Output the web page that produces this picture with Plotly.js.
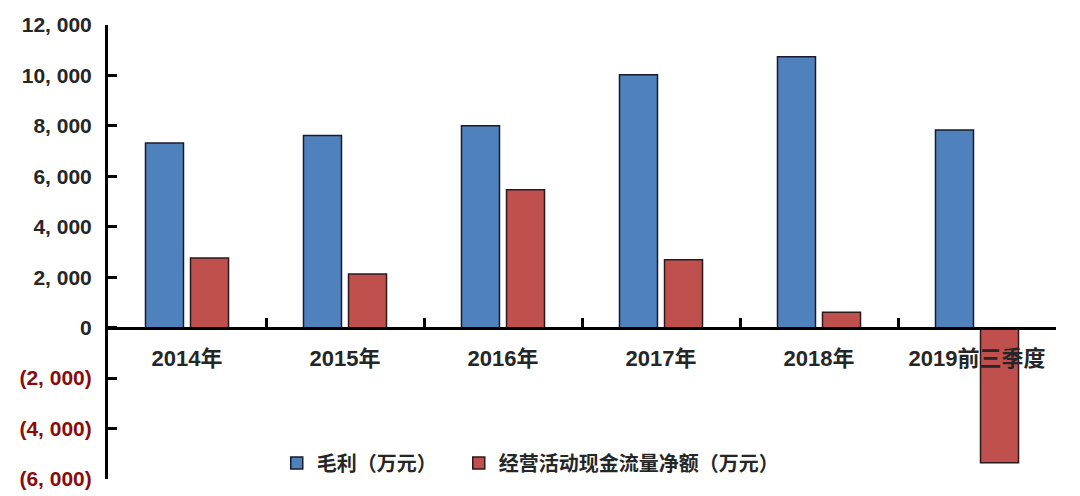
<!DOCTYPE html>
<html><head><meta charset="utf-8">
<script src="https://cdn.plot.ly/plotly-3.0.1.min.js"></script>
<style>html,body{margin:0;padding:0;background:#fff}#chart{width:1080px;height:496px}</style>
</head><body><div id="chart"></div>
<script>
const categories = ['2014年','2015年','2016年','2017年','2018年','2019前三季度'];
const grossProfit = [7320, 7620, 8010, 10030, 10740, 7840];
const operatingCashFlow = [2760, 2130, 5470, 2690, 610, -5360];
const seriesNames = ['毛利（万元）','经营活动现金流量净额（万元）'];
const yTickVals = [-6000,-4000,-2000,0,2000,4000,6000,8000,10000,12000];
const yTickLabels = ['(6, 000)','(4, 000)','(2, 000)','0','2, 000','4, 000','6, 000','8, 000','10, 000','12, 000'];

const FONT = 'Liberation Sans, Noto Sans CJK SC, sans-serif';
const yTickText = yTickLabels.map((t,i) => yTickVals[i] < 0 ? '<span style="color:#8b0a0a">'+t+'</span>' : t);

const traces = [
  {type:'bar', name:seriesNames[0], x:categories, y:grossProfit, legend:'legend',
   marker:{color:'#4f81bd', line:{color:'#1a1a2e', width:1.5}}},
  {type:'bar', name:seriesNames[1], x:categories, y:operatingCashFlow, legend:'legend2',
   marker:{color:'#c0504d', line:{color:'#2a1a1a', width:1.5}}}
];

const legendFont = {family:FONT, size:20, color:'#262626', weight:700};
const layout = {
  width:1080, height:496,
  margin:{l:108, r:24, t:25, b:17},
  paper_bgcolor:'#fff', plot_bgcolor:'rgba(0,0,0,0)',
  barmode:'group', bargap:0.43, bargroupgap:0.156,
  showlegend:true,
  legend:{orientation:'h', x:0.178, xanchor:'left', y:0.035, yanchor:'middle',
    bgcolor:'rgba(0,0,0,0)', font:legendFont},
  legend2:{orientation:'h', x:0.370, xanchor:'left', y:0.035, yanchor:'middle',
    bgcolor:'rgba(0,0,0,0)', font:legendFont},
  xaxis:{type:'category', anchor:'free', position:1/3, range:[-0.5,5.5],
    showline:true, linecolor:'#000', linewidth:3,
    ticks:'inside', tickson:'boundaries', ticklen:9, tickwidth:3, tickcolor:'#000',
    tickfont:{family:FONT, size:22, color:'#262626', weight:700}, ticklabelstandoff:10,
    showgrid:false, zeroline:false, fixedrange:true},
  yaxis:{range:[-6000,12000], tickvals:yTickVals, ticktext:yTickText,
    showline:true, linecolor:'#000', linewidth:3,
    ticks:'inside', ticklen:9, tickwidth:3, tickcolor:'#000',
    tickfont:{family:FONT, size:21, color:'#262626', weight:700}, ticklabelstandoff:9,
    showgrid:false, zeroline:false, fixedrange:true}
};

Plotly.newPlot('chart', traces, layout, {displayModeBar:false, staticPlot:true});
</script></body></html>
